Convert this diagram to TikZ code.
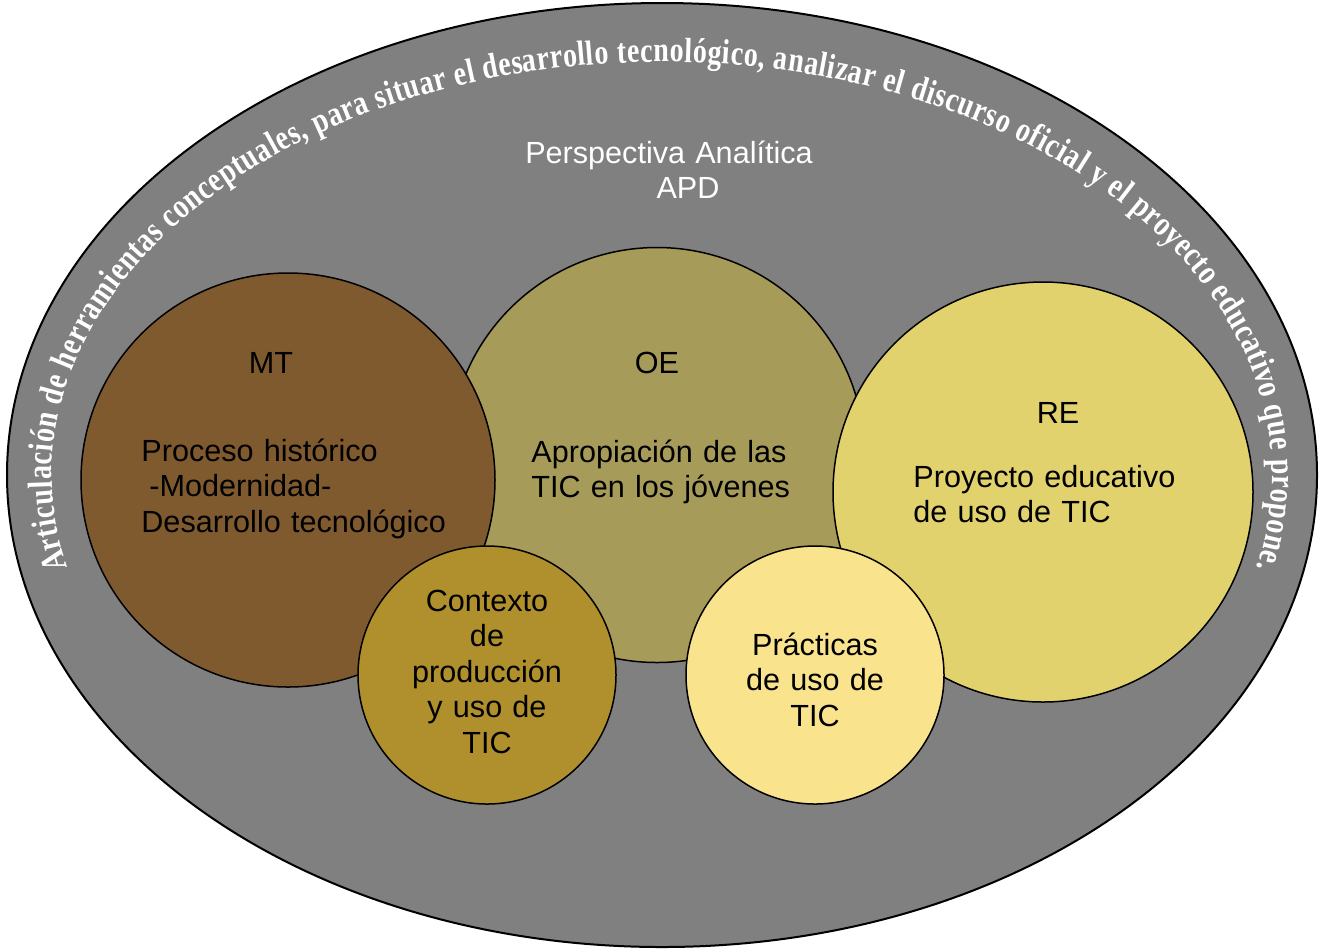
\documentclass[tikz,border=0pt]{standalone}
\usepackage{fontspec}
\setmainfont{Liberation Sans}
\newfontfamily\arcfont[FakeStretch=0.8]{Liberation Serif}
\usetikzlibrary{decorations.text}

\definecolor{marco}{HTML}{808080}
\definecolor{cafe}{HTML}{7F5A2F}
\definecolor{oliva}{HTML}{A79B59}
\definecolor{paja}{HTML}{E1D26E}
\definecolor{ocre}{HTML}{B0902C}
\definecolor{crema}{HTML}{F9E38D}
\newcommand{\arcstyle}{\arcfont\bfseries\fontsize{17.5pt}{20pt}\selectfont}

\begin{document}
\begin{tikzpicture}[x=0.5pt, y=-0.5pt,
    ambito/.style={circle, draw, line width=0.75pt, inner sep=0pt},
    rotulo/.style={font=\fontsize{15.3pt}{17.75pt}\selectfont, inner sep=0pt},
    cuerpo/.style={rotulo, text width=180pt, align=left, anchor=base west},
    centrado/.style={rotulo, text width=170pt, align=center, anchor=base}]
   \useasboundingbox (0,0) rectangle (1321,950);
   % marco exterior
   \draw[fill=marco, line width=1pt] (662,475) ellipse [x radius=655, y radius=472];
   \path[decorate, decoration={text along path, text color=white, text align={fit to path},
       text={|\arcstyle|Articulación de herramientas conceptuales, para situar el desarrollo tecnológico, analizar el discurso oficial y el proyecto educativo que propone.}}]
     ([shift={(167:610 and 413)}]662,475) arc[start angle=167, end angle=373, x radius=610, y radius=413];
   \node[centrado, text=white] (persp) at (669,163) {Perspectiva Analítica\\\hspace*{19pt}APD};
   % circulos
   \node[ambito, fill=oliva, minimum size=207.5pt] (OE) at (657,455) {};
   \node[ambito, fill=cafe, minimum size=207pt] (MT) at (288,480) {};
   \node[ambito, fill=paja, minimum size=210pt] (RE) at (1043,492) {};
   \node[ambito, fill=ocre, minimum size=129pt] (ctx) at (487,675) {};
   \node[ambito, fill=crema, minimum size=129pt] (prac) at (815,675) {};
   % textos
   \node[rotulo, anchor=base] (mtT) at (271,373) {MT};
   \node[cuerpo] (mtX) at (141,461) {Proceso histórico\\\hspace*{4pt}-Modernidad-\\Desarrollo tecnológico};
   \node[rotulo, anchor=base] (oeT) at (657,373) {OE};
   \node[cuerpo] (oeX) at (531,462) {Apropiación de las\\TIC en los jóvenes};
   \node[rotulo, anchor=base] (reT) at (1058,423) {RE};
   \node[cuerpo] (reX) at (913,487) {Proyecto educativo\\de uso de TIC};
   \node[centrado] (ctxX) at (487,611) {Contexto\\de\\producción\\y uso de\\TIC};
   \node[centrado] (pracX) at (815,655) {Prácticas\\de uso de\\TIC};
\end{tikzpicture}
\end{document}
